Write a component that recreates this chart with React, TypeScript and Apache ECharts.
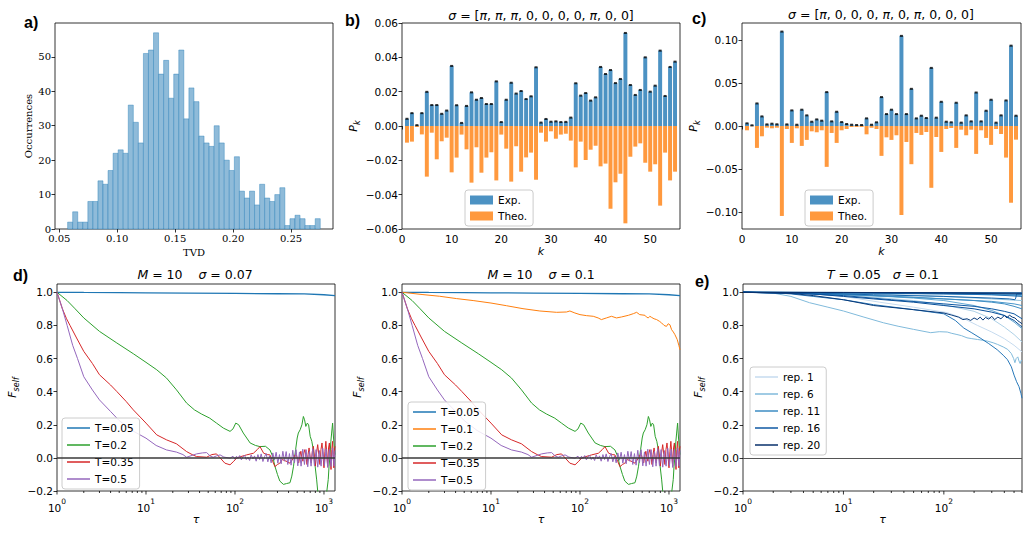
import React, { useEffect, useRef } from 'react';
import * as echarts from 'echarts';

// ---------- a) histogram of TVD ----------
const TVD_MIN = 0.0572;
const TVD_BIN = 0.00436;
const TVD_COUNTS = [2, 5, 2, 2, 8, 8, 14, 13, 17, 22, 23, 22, 36, 31, 25, 51, 52, 57, 45, 49, 38, 45, 52, 32, 41, 37, 27, 25, 24, 30, 25, 20, 17, 21, 11, 9, 11, 7, 13, 9, 8, 10, 12, 1, 3, 4, 3, 1, 1, 3];
const A_X_TICKS = [0.05, 0.1, 0.15, 0.2, 0.25];
const A_Y_TICKS = [0, 10, 20, 30, 40, 50];

// ---------- b), c) probabilities ----------
const K = Array.from({ length: 55 }, (_, i) => i + 1);
const B_EXP = [0.0042, 0.0075, 0.0005, 0.0075, 0.0199, 0.0122, 0.0122, 0.0071, 0.009, 0.035,
  0.0121, 0.0018, 0.0117, 0.0196, 0.0153, 0.0163, 0.0128, 0.0128, 0.026, 0.0023,
  0.0153, 0.0252, 0.0189, 0.0204, 0.0157, 0.0173, 0.0342, 0.002, 0.0041, 0.0025,
  0.0027, 0.0023, 0.0024, 0.0049, 0.0249, 0.0177, 0.0192, 0.0148, 0.0167, 0.0344,
  0.0303, 0.0326, 0.025, 0.0274, 0.0542, 0.0239, 0.0181, 0.021, 0.040, 0.020,
  0.0235, 0.0439, 0.0175, 0.0344, 0.0375];
const B_THEO = [-0.0097, -0.0091, -0.0006, -0.0049, -0.0295, -0.0039, -0.0194, -0.0089, -0.0068, -0.027,
  -0.0184, -0.005, -0.0136, -0.033, -0.0124, -0.0272, -0.0184, -0.0153, -0.0317, -0.005,
  -0.0132, -0.0324, -0.0118, -0.0266, -0.0183, -0.0155, -0.0313, -0.0039, -0.0091, -0.0031,
  -0.0074, -0.005, -0.0045, -0.0085, -0.0241, -0.0091, -0.0198, -0.0138, -0.0115, -0.0235,
  -0.0219, -0.0482, -0.0328, -0.0278, -0.0567, -0.0179, -0.012, -0.0101, -0.0214, -0.0266,
  -0.0223, -0.0464, -0.0155, -0.0317, -0.0266];
const C_EXP = [0.0031, 0.0008, 0.0263, 0.0112, 0.0019, 0.0027, 0.002, 0.110, 0.0019, 0.0182,
  0.0015, 0.019, 0.0124, 0.005, 0.0077, 0.0062, 0.0395, 0.0054, 0.0166, 0.0046,
  0.0023, 0.0015, 0.0012, 0.0012, 0.0089, 0.0015, 0.0043, 0.0337, 0.0139, 0.019,
  0.0139, 0.105, 0.0139, 0.0433, 0.0089, 0.012, 0.0093, 0.0677, 0.0097, 0.0282,
  0.005, 0.0043, 0.0271, 0.0039, 0.0124, 0.0054, 0.039, 0.0054, 0.0178, 0.0306,
  0.0039, 0.0124, 0.0298, 0.0936, 0.012];
const C_THEO = [-0.005, -0.0004, -0.0255, -0.012, -0.0019, -0.0027, -0.002, -0.1048, -0.0035, -0.0197,
  -0.0027, -0.0232, -0.0162, -0.0062, -0.0073, -0.005, -0.0476, -0.0081, -0.0197, -0.005,
  -0.0035, -0.0012, -0.0012, -0.0012, -0.0097, -0.002, -0.0035, -0.0348, -0.0132, -0.0162,
  -0.0108, -0.1037, -0.0186, -0.0445, -0.0081, -0.0104, -0.007, -0.072, -0.0128, -0.0302,
  -0.0035, -0.0023, -0.0255, -0.0043, -0.0108, -0.0043, -0.0325, -0.005, -0.0139, -0.022,
  -0.0035, -0.0093, -0.0368, -0.0894, -0.0159];
const B_Y_TICKS = [-0.06, -0.04, -0.02, 0, 0.02, 0.04, 0.06];
const C_Y_TICKS = [-0.1, -0.05, 0, 0.05, 0.1];
const K_TICKS = [0, 10, 20, 30, 40, 50];

// ---------- d) F_self vs tau ----------
const D_T005 = [[1, 1.0], [2, 0.999], [5, 0.998], [10, 0.997], [30, 0.995], [100, 0.993], [300, 0.991], [600, 0.99], [1000, 0.985], [1330, 0.98]];
const D_T01 = [[1, 1], [1.72, 0.986], [2.65, 0.976], [4.08, 0.962], [6.3, 0.95], [10, 0.935], [14.9, 0.919], [22.9, 0.901], [35.4, 0.887], [54.6, 0.879], [70.5, 0.881], [77, 0.887], [87.6, 0.875], [100, 0.865], [118, 0.859], [141, 0.855], [160, 0.845], [174, 0.835], [198, 0.845], [226, 0.855], [257, 0.845], [293, 0.851], [350, 0.861], [398, 0.871], [433, 0.879], [469, 0.865], [537, 0.861], [560, 0.85], [585, 0.845], [610, 0.855], [635, 0.849], [680, 0.84], [727, 0.835], [780, 0.825], [826, 0.815], [880, 0.8], [936, 0.794], [980, 0.81], [1024, 0.804], [1071, 0.774], [1120, 0.76], [1167, 0.744], [1239, 0.714], [1290, 0.68], [1330, 0.653]];
const D_T02 = [[1, 1], [1.3, 0.95], [1.6, 0.9], [2, 0.845], [3, 0.764], [4.7, 0.694], [7.2, 0.629], [10, 0.577], [13.2, 0.532], [17, 0.482], [22, 0.411], [28.6, 0.331], [35, 0.29], [42, 0.265], [52, 0.24], [62, 0.21], [74, 0.18], [88, 0.16], [95, 0.175], [102, 0.21], [110, 0.2], [124, 0.15], [148, 0.09], [170, 0.075], [191, 0.068], [220, 0.07], [247, 0.048], [265, 0.01], [281, -0.05], [300, -0.1], [319, -0.14], [350, -0.16], [380, -0.155], [415, -0.15], [435, -0.11], [455, -0.05], [480, 0.05], [500, 0.12], [515, 0.15], [540, 0.17], [565, 0.2], [587, 0.25], [605, 0.23], [625, 0.19], [650, 0.21], [672, 0.2], [700, 0.13], [730, 0.1], [760, 0.048], [795, -0.05], [828, -0.133], [850, -0.2], [900, -0.25], [960, -0.28], [1050, -0.25], [1117, -0.13], [1140, -0.05], [1167, 0.008], [1195, 0.1], [1219, 0.15], [1250, 0.21], [1280, 0.12], [1330, 0.02]];
const D_T035 = [[1, 1], [1.15, 0.9], [1.28, 0.84], [1.4, 0.8], [1.66, 0.724], [2, 0.643], [2.5, 0.57], [3, 0.502], [4, 0.44], [4.7, 0.401], [6, 0.34], [7.2, 0.29], [10, 0.21], [13.2, 0.139], [17, 0.109], [22, 0.085], [28.6, 0.038], [33, 0.02], [37, 0.008], [48, 0.004], [55, 0.02], [62, 0.024], [68, 0.0], [77, -0.032], [88, -0.042], [97, -0.02], [105, 0.0], [120, 0.01], [135, 0.018], [161, 0.028], [178, 0.05], [191, 0.068], [210, 0.028], [230, 0.02], [247, 0.018], [265, -0.02], [281, -0.053], [300, -0.04], [319, -0.032], [340, -0.01], [375, -0.02], [415, -0.032], [455, 0.0], [475, 0.02], [490, 0.018], [505, -0.01], [520, -0.03], [535, 0.01], [550, 0.04], [565, 0.0], [580, -0.02], [595, 0.03], [610, 0.05], [628, 0.01], [645, -0.04], [662, 0.02], [680, 0.06], [700, 0.0], [720, -0.03], [740, 0.04], [760, 0.07], [780, 0.01], [800, -0.05], [825, 0.03], [850, 0.08], [875, 0.02], [900, -0.04], [925, 0.05], [950, 0.09], [975, 0.02], [1000, -0.06], [1025, 0.04], [1050, 0.1], [1075, 0.03], [1100, -0.05], [1125, 0.06], [1150, 0.09], [1175, 0.0], [1200, -0.07], [1225, 0.05], [1250, 0.1], [1270, 0.02], [1290, -0.06], [1310, 0.04], [1330, 0.07]];
const D_T05 = [[1, 1], [1.15, 0.9], [1.3, 0.8], [1.5, 0.68], [1.7, 0.6], [2, 0.49], [2.5, 0.41], [3, 0.35], [4, 0.28], [5, 0.225], [7, 0.165], [10, 0.119], [13, 0.075], [17, 0.048], [22, 0.035], [26, 0.02], [28.6, 0.004], [33, 0.015], [37, 0.024], [43, 0.03], [48, 0.032], [53, 0.01], [57, 0.004], [62, 0.012], [68, 0.018], [75, 0.005], [88, -0.002], [95, 0.01],
  [100, -0.008], [104, 0.01], [108, -0.004], [113, 0.014], [118, -0.012], [123, 0.006], [128, 0.016], [134, -0.01], [140, 0.004], [146, -0.016], [152, 0.018], [159, -0.006], [166, 0.012], [173, -0.02], [181, 0.02], [189, -0.01], [197, 0.024], [206, -0.022], [215, 0.008], [224, 0.026], [234, -0.024], [244, 0.012], [255, -0.03], [266, 0.03], [278, -0.014], [290, 0.034], [303, -0.032], [316, 0.02], [330, -0.036], [345, 0.04], [360, -0.02], [376, 0.038], [392, -0.04], [409, 0.026], [427, -0.044], [446, 0.046], [466, -0.03], [486, 0.05], [508, -0.048], [530, 0.036], [553, -0.05], [578, 0.052], [603, -0.04], [630, 0.05], [657, -0.054], [686, 0.04], [716, -0.05], [748, 0.056], [781, -0.046], [815, 0.05], [851, -0.056], [889, 0.044], [928, -0.05], [969, 0.058], [1011, -0.048], [1056, 0.054], [1102, -0.058], [1151, 0.05], [1201, -0.052], [1254, 0.06], [1300, -0.05], [1330, 0.045]];
const F_TICKS = [-0.2, 0, 0.2, 0.4, 0.6, 0.8, 1.0];
const LOG_MAJOR_D = [1, 10, 100, 1000];
const LOG_MINOR_D = [2, 3, 4, 5, 6, 7, 8, 9, 20, 30, 40, 50, 60, 70, 80, 90, 200, 300, 400, 500, 600, 700, 800, 900];
const LOG_MAJOR_E = [1, 10, 100];
const LOG_MINOR_E = [2, 3, 4, 5, 6, 7, 8, 9, 20, 30, 40, 50, 60, 70, 80, 90, 200, 300, 400, 500, 600];

// ---------- e) replicas ----------
const E_REPS = [
  [[1, 1], [3, 0.998], [5, 0.99], [10, 0.975], [23, 0.94], [50, 0.91], [108, 0.877], [160, 0.84], [216, 0.8], [300, 0.76], [400, 0.72], [500, 0.68], [600, 0.64]],
  [[1, 1], [10, 0.999], [100, 0.998], [600, 0.996]],
  [[1, 1], [3, 0.995], [10, 0.985], [50, 0.95], [100, 0.925], [200, 0.885], [300, 0.84], [400, 0.79], [500, 0.745], [600, 0.7]],
  [[1, 1], [10, 0.998], [100, 0.994], [300, 0.99], [600, 0.985]],
  [[1, 1], [5, 0.998], [20, 0.99], [100, 0.975], [300, 0.96], [600, 0.95]],
  [[1, 1], [2, 0.995], [3, 0.975], [4.6, 0.937], [7, 0.91], [10, 0.887], [16, 0.85], [25, 0.816], [35, 0.795], [50, 0.776], [62, 0.765], [74, 0.756], [90, 0.762], [108, 0.76], [120, 0.752], [135, 0.745], [150, 0.738], [170, 0.725], [190, 0.72], [216, 0.715], [245, 0.71], [272, 0.705], [310, 0.695], [343, 0.685], [390, 0.67], [432, 0.655], [470, 0.63], [495, 0.6], [510, 0.575], [525, 0.6], [545, 0.61], [560, 0.585], [575, 0.57], [590, 0.59], [600, 0.585]],
  [[1, 1], [10, 0.997], [100, 0.99], [300, 0.985], [600, 0.98]],
  [[1, 1], [10, 0.99], [50, 0.965], [100, 0.95], [200, 0.92], [300, 0.89], [400, 0.86], [500, 0.82], [600, 0.78]],
  [[1, 1], [10, 0.998], [100, 0.993], [600, 0.985]],
  [[1, 1], [5, 0.995], [20, 0.98], [100, 0.96], [300, 0.945], [500, 0.93], [600, 0.92]],
  [[1, 1], [3, 0.995], [10, 0.985], [50, 0.97], [100, 0.96], [200, 0.95], [300, 0.94], [400, 0.93], [500, 0.915], [600, 0.9]],
  [[1, 1], [10, 0.999], [600, 0.997]],
  [[1, 1], [2, 0.998], [3, 0.99], [5, 0.975], [10, 0.955], [20, 0.925], [50, 0.895], [100, 0.87], [130, 0.83], [158, 0.784], [190, 0.755], [230, 0.724], [280, 0.69], [340, 0.653], [390, 0.62], [430, 0.593], [470, 0.55], [500, 0.5], [530, 0.46], [560, 0.43], [585, 0.39], [600, 0.36]],
  [[1, 1], [10, 0.996], [100, 0.99], [300, 0.985], [600, 0.975]],
  [[1, 1], [5, 0.995], [20, 0.985], [100, 0.975], [300, 0.965], [450, 0.96], [510, 0.955], [520, 0.965], [530, 0.99], [600, 0.99]],
  [[1, 1], [3, 0.995], [10, 0.98], [30, 0.955], [100, 0.93], [200, 0.915], [300, 0.9], [400, 0.885], [500, 0.87], [600, 0.84]],
  [[1, 1], [3, 0.995], [5, 0.99], [10, 0.975], [20, 0.96], [50, 0.94], [100, 0.92], [200, 0.9], [300, 0.88], [400, 0.86], [500, 0.83], [600, 0.79]],
  [[1, 1], [10, 0.998], [100, 0.995], [600, 0.99]],
  [[1, 1], [3, 0.993], [5, 0.98], [10, 0.955], [20, 0.92], [50, 0.895], [100, 0.875], [120, 0.862], [140, 0.85], [155, 0.835], [170, 0.84], [185, 0.83], [200, 0.845], [215, 0.835], [230, 0.85], [245, 0.832], [260, 0.848], [280, 0.838], [300, 0.855], [320, 0.835], [345, 0.85], [370, 0.84], [400, 0.86], [425, 0.845], [450, 0.862], [480, 0.85], [510, 0.845], [540, 0.83], [570, 0.82], [600, 0.81]],
  [[1, 1], [10, 0.999], [100, 0.997], [600, 0.995]],
];
const E_LEGEND = ['rep. 1', 'rep. 6', 'rep. 11', 'rep. 16', 'rep. 20'];

// ---------- styles ----------
const SANS = 'DejaVu Sans';
const SERIF = 'DejaVu Serif';
const C_EXP_COL = '#4c92c3';
const C_THEO_COL = '#ff993e';
const T_COLORS: Record<string, string> = {
  'T=0.05': '#1f77b4', 'T=0.1': '#ff7f0e', 'T=0.2': '#2ca02c', 'T=0.35': '#d62728', 'T=0.5': '#9467bd',
};
const BLUES = ['#f7fbff', '#deebf7', '#c6dbef', '#9ecae1', '#6baed6', '#4292c6', '#2171b5', '#08519c', '#08306b'];
function blues(t: number): string {
  const p = t * (BLUES.length - 1);
  const i = Math.min(BLUES.length - 2, Math.floor(p));
  const f = p - i;
  const a = BLUES[i], b = BLUES[i + 1];
  const ch = (s: string, k: number) => parseInt(s.slice(1 + 2 * k, 3 + 2 * k), 16);
  const c = [0, 1, 2].map(k => Math.round(ch(a, k) + (ch(b, k) - ch(a, k)) * f));
  return 'rgb(' + c.join(',') + ')';
}

const minus = (s: string) => s.replace('-', '\u2212');

function valAxis(grid: number, min: number, max: number, ticks: number[], fmt: (v: number) => string, font = SANS, extra: any = {}) {
  return {
    gridIndex: grid, type: 'value', min, max,
    axisLine: { show: false }, splitLine: { show: false },
    axisTick: { show: true, length: 3.5, customValues: ticks, lineStyle: { color: '#000', width: 0.8 } },
    axisLabel: { customValues: ticks, formatter: fmt, color: '#000', fontSize: font === SERIF ? 10 : 10.5, fontFamily: font, margin: 4 },
    ...extra,
  };
}

function logAxis(grid: number, max: number, extra: any = {}) {
  return {
    gridIndex: grid, type: 'log', logBase: 10, min: 1, max,
    axisLine: { show: false }, splitLine: { show: false }, axisTick: { show: false },
    axisLabel: {
      margin: 6, color: '#000',
      formatter: (v: number) => {
        const l = Math.log10(v); const e = Math.round(l);
        if (Math.abs(l - e) > 1e-6) return '';
        return '{b|10}{s|' + e + '}';
      },
      rich: {
        b: { fontSize: 10.5, fontFamily: SANS, lineHeight: 16, verticalAlign: 'bottom', color: '#000' },
        s: { fontSize: 7.5, fontFamily: SANS, lineHeight: 16, verticalAlign: 'top', color: '#000' },
      },
    },
    ...extra,
  };
}

function tickSeries(xi: number, values: number[], yMin: number, len: number) {
  return {
    type: 'custom', xAxisIndex: xi, yAxisIndex: xi, silent: true, clip: false, z: 5,
    data: values.map(v => [v, yMin]),
    renderItem: (_p: any, api: any) => {
      const c = api.coord([api.value(0), api.value(1)]);
      return { type: 'line', shape: { x1: c[0], y1: c[1], x2: c[0], y2: c[1] + len }, style: { stroke: '#000', lineWidth: 0.8 } };
    },
  };
}

function lineSeries(name: string, idx: number, data: number[][], color: string, extra: any = {}) {
  return {
    type: 'line', name, xAxisIndex: idx, yAxisIndex: idx, data, showSymbol: false, symbol: 'none',
    lineStyle: { width: 1, color }, itemStyle: { color }, ...extra,
  };
}

const zeroLine = (color: string, width: number) => ({
  silent: true, symbol: ['none', 'none'], label: { show: false },
  lineStyle: { color, width, type: 'solid' }, data: [{ yAxis: 0 }],
});

const legendBase = {
  orient: 'vertical', backgroundColor: 'rgba(255,255,255,0.85)', borderColor: '#cccccc', borderWidth: 1,
  borderRadius: 3, padding: [4, 6, 4, 5], itemGap: 5, selectedMode: false, icon: 'rect',
  textStyle: { fontSize: 10.5, fontFamily: SANS, color: '#000', lineHeight: 12 },
};

const italicRich = {
  i: { fontStyle: 'italic', fontSize: 12.5, fontFamily: SANS, color: '#000' },
};

function titleText(x: number, y: number, text: string) {
  return {
    type: 'text', x, y,
    style: { text, fontSize: 12.5, fontFamily: SANS, fill: '#000', align: 'center', verticalAlign: 'middle', rich: italicRich },
  };
}
function panelLabel(x: number, y: number, text: string) {
  return {
    type: 'text', x, y,
    style: { text, fontSize: 16, fontWeight: 'bold', fontFamily: 'Liberation Sans', fill: '#000', verticalAlign: 'middle' },
  };
}

const subRich = {
  i: { fontStyle: 'italic', fontSize: 11, fontFamily: SANS, color: '#000', lineHeight: 16, verticalAlign: 'middle' },
  s: { fontStyle: 'italic', fontSize: 8, fontFamily: SANS, color: '#000', lineHeight: 16, verticalAlign: 'bottom' },
};

export default function App() {
  const ref = useRef<HTMLDivElement>(null);
  useEffect(() => {
    if (!ref.current) return;
    const chart = echarts.init(ref.current, undefined, { renderer: 'svg' });
    const gridStyle = { show: true, borderColor: '#000', borderWidth: 0.8, backgroundColor: 'transparent', containLabel: false };
    const grids = [
      { left: 55, top: 23, width: 278, height: 206 },
      { left: 402, top: 23, width: 278, height: 206 },
      { left: 742, top: 23, width: 279, height: 206 },
      { left: 57, top: 284, width: 278, height: 207 },
      { left: 402, top: 284, width: 278, height: 207 },
      { left: 743, top: 284, width: 279, height: 207 },
    ].map(g => ({ ...gridStyle, ...g }));

    const fxName = (name: string, gap: number, style: any) => ({ name, nameLocation: 'middle', nameGap: gap, nameTextStyle: style });

    const xAxis = [
      valAxis(0, 0.0463, 0.2862, A_X_TICKS, v => v.toFixed(2), SERIF, fxName('TVD', 18, { fontFamily: SERIF, fontSize: 10, color: '#000' })),
      valAxis(1, 0, 56, K_TICKS, v => String(v), SANS, fxName('k', 17, { fontFamily: SANS, fontSize: 11, fontStyle: 'italic', color: '#000' })),
      valAxis(2, 0, 56, K_TICKS, v => String(v), SANS, fxName('k', 17, { fontFamily: SANS, fontSize: 11, fontStyle: 'italic', color: '#000' })),
      logAxis(3, 1330, fxName('τ', 18, { fontFamily: SANS, fontSize: 11, fontStyle: 'italic', color: '#000' })),
      logAxis(4, 1330, fxName('τ', 18, { fontFamily: SANS, fontSize: 11, fontStyle: 'italic', color: '#000' })),
      logAxis(5, 600, fxName('τ', 18, { fontFamily: SANS, fontSize: 11, fontStyle: 'italic', color: '#000' })),
    ];
    const pk = { fontFamily: SANS, fontSize: 11, color: '#000', rich: subRich };
    const yAxis = [
      valAxis(0, 0, 59.85, A_Y_TICKS, v => String(v), SERIF, fxName('Occurrences', 22, { fontFamily: SERIF, fontSize: 10, color: '#000' })),
      valAxis(1, -0.06, 0.06, B_Y_TICKS, v => minus(v.toFixed(2)), SANS, fxName('{i|P}{s|k}', 41, pk)),
      valAxis(2, -0.12, 0.12, C_Y_TICKS, v => minus(v.toFixed(2)), SANS, fxName('{i|P}{s|k}', 40, pk)),
      valAxis(3, -0.2, 1.05, F_TICKS, v => minus(v.toFixed(1)), SANS, fxName('{i|F}{s|self}', 37, pk)),
      valAxis(4, -0.2, 1.05, F_TICKS, v => minus(v.toFixed(1)), SANS, fxName('{i|F}{s|self}', 37, pk)),
      valAxis(5, -0.2, 1.05, F_TICKS, v => minus(v.toFixed(1)), SANS, fxName('{i|F}{s|self}', 37, pk)),
    ];

    const series: any[] = [];
    // a) histogram
    series.push({
      type: 'custom', xAxisIndex: 0, yAxisIndex: 0, silent: true,
      data: TVD_COUNTS.map((c, i) => [TVD_MIN + i * TVD_BIN, TVD_MIN + (i + 1) * TVD_BIN, c]),
      encode: { x: [0, 1], y: 2 },
      renderItem: (_p: any, api: any) => {
        const a = api.coord([api.value(0), 0]);
        const b = api.coord([api.value(1), api.value(2)]);
        return {
          type: 'rect', shape: { x: a[0], y: b[1], width: b[0] - a[0], height: a[1] - b[1] },
          style: { fill: '#8fbbd9', stroke: 'rgba(31,119,180,0.5)', lineWidth: 0.8 },
        };
      },
    });
    // b), c) bars
    const bars = (idx: number, exp: number[], theo: number[]) => {
      series.push({ type: 'bar', name: 'Exp.', xAxisIndex: idx, yAxisIndex: idx, data: K.map((k, i) => [k, exp[i]]), barWidth: '80%', barGap: '-100%', itemStyle: { color: C_EXP_COL } });
      series.push({ type: 'bar', name: 'Theo.', xAxisIndex: idx, yAxisIndex: idx, data: K.map((k, i) => [k, theo[i]]), barWidth: '80%', barGap: '-100%', itemStyle: { color: C_THEO_COL } });
      series.push({ type: 'scatter', name: 'err', xAxisIndex: idx, yAxisIndex: idx, data: K.map((k, i) => [k, exp[i]]), symbol: 'rect', symbolSize: [3, 2], itemStyle: { color: '#000' }, silent: true, z: 4 });
    };
    bars(1, B_EXP, B_THEO);
    bars(2, C_EXP, C_THEO);

    // d) lines
    const dPanel = (idx: number, withT01: boolean) => {
      series.push(lineSeries('T=0.05', idx, D_T005, T_COLORS['T=0.05'], { lineStyle: { width: 1.3, color: T_COLORS['T=0.05'] } }));
      if (withT01) series.push(lineSeries('T=0.1', idx, D_T01, T_COLORS['T=0.1']));
      series.push(lineSeries('T=0.2', idx, D_T02, T_COLORS['T=0.2']));
      series.push(lineSeries('T=0.35', idx, D_T035, T_COLORS['T=0.35']));
      series.push(lineSeries('T=0.5', idx, D_T05, T_COLORS['T=0.5'], { markLine: zeroLine('#3a3a3a', 1.6) }));
      series.push(tickSeries(idx, LOG_MAJOR_D, -0.2, 3.5));
      series.push(tickSeries(idx, LOG_MINOR_D, -0.2, 2));
    };
    dPanel(3, false);
    dPanel(4, true);

    // e) replicas
    E_REPS.forEach((d, i) => {
      const col = blues(0.25 + 0.75 * i / (E_REPS.length - 1));
      series.push(lineSeries('rep. ' + (i + 1), 5, d, col, i === E_REPS.length - 1 ? { markLine: zeroLine('#555', 1) } : {}));
    });
    series.push(tickSeries(5, LOG_MAJOR_E, -0.2, 3.5));
    series.push(tickSeries(5, LOG_MINOR_E, -0.2, 2));

    const legend = [
      { ...legendBase, data: ['Exp.', 'Theo.'], left: 465, top: 190, itemWidth: 23, itemHeight: 9, itemGap: 4 },
      { ...legendBase, data: ['Exp.', 'Theo.'], left: 805, top: 190, itemWidth: 23, itemHeight: 9, itemGap: 4 },
      { ...legendBase, data: ['T=0.05', 'T=0.2', 'T=0.35', 'T=0.5'], left: 62, top: 418, itemWidth: 23, itemHeight: 1.5 },
      { ...legendBase, data: ['T=0.05', 'T=0.1', 'T=0.2', 'T=0.35', 'T=0.5'], left: 408, top: 402, itemWidth: 23, itemHeight: 1.5 },
      { ...legendBase, data: E_LEGEND, left: 750, top: 367, itemWidth: 23, itemHeight: 1.5 },
    ];

    const graphic = [
      panelLabel(24, 22, 'a)'),
      panelLabel(345, 20, 'b)'),
      panelLabel(692, 18, 'c)'),
      panelLabel(13, 275, 'd)'),
      panelLabel(695, 281, 'e)'),
      titleText(541, 15, '{i|σ} = [{i|π}, {i|π}, {i|π}, 0, 0, 0, 0, {i|π}, 0, 0]'),
      titleText(881, 14, '{i|σ} = [{i|π}, 0, 0, 0, {i|π}, 0, {i|π}, 0, 0, 0]'),
      titleText(195, 274, '{i|M} = 10    {i|σ} = 0.07'),
      titleText(541, 274, '{i|M} = 10    {i|σ} = 0.1'),
      titleText(883, 274, '{i|T} = 0.05   {i|σ} = 0.1'),
    ];

    chart.setOption({
      animation: false,
      backgroundColor: '#fff',
      grid: grids, xAxis, yAxis, series, legend, graphic,
    });
    return () => chart.dispose();
  }, []);
  return <div ref={ref} style={{ position: 'absolute', left: 0, top: 0, width: 1028, height: 555 }} />;
}
